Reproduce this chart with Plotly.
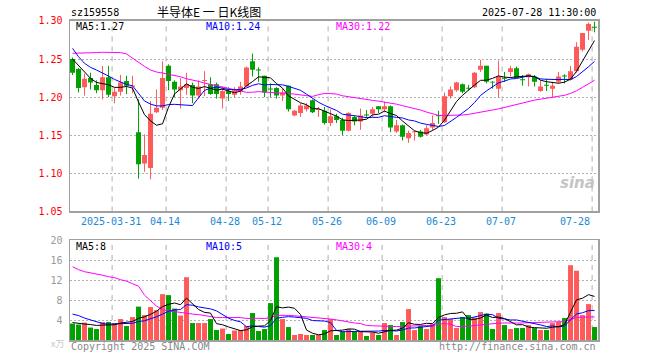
import plotly.graph_objects as go

# ---------------- data ----------------
opens = [1.250, 1.237, 1.213, 1.225, 1.216, 1.209, 1.226, 1.201, 1.207, 1.221,
         1.214, 1.154, 1.113, 1.107, 1.180, 1.186, 1.241, 1.220, 1.209, 1.212,
         1.216, 1.202, 1.221, 1.217, 1.217, 1.198, 1.208, 1.203, 1.208, 1.214,
         1.247, 1.236, 1.228, 1.211, 1.212, 1.202, 1.215, 1.176, 1.179, 1.184,
         1.196, 1.183, 1.182, 1.166, 1.175, 1.170, 1.156, 1.174, 1.168, 1.177,
         1.178, 1.188, 1.184, 1.188, 1.155, 1.163, 1.146, 1.154, 1.155, 1.151,
         1.160, 1.176, 1.167, 1.201, 1.209, 1.217, 1.212, 1.213, 1.236, 1.241,
         1.220, 1.211, 1.225, 1.233, 1.238, 1.223, 1.226, 1.227, 1.208, 1.216,
         1.211, 1.220, 1.228, 1.223, 1.234, 1.262, 1.287, 1.292]
highs = [1.252, 1.238, 1.231, 1.232, 1.222, 1.241, 1.241, 1.213, 1.229, 1.228,
         1.228, 1.197, 1.151, 1.195, 1.210, 1.247, 1.243, 1.222, 1.225, 1.232,
         1.219, 1.222, 1.234, 1.226, 1.219, 1.214, 1.213, 1.213, 1.220, 1.240,
         1.257, 1.239, 1.228, 1.218, 1.213, 1.211, 1.215, 1.183, 1.192, 1.192,
         1.197, 1.187, 1.187, 1.184, 1.178, 1.173, 1.180, 1.176, 1.185, 1.183,
         1.187, 1.188, 1.194, 1.189, 1.170, 1.164, 1.156, 1.156, 1.157, 1.163,
         1.176, 1.182, 1.206, 1.214, 1.220, 1.218, 1.216, 1.233, 1.249, 1.241,
         1.221, 1.248, 1.233, 1.241, 1.240, 1.229, 1.231, 1.229, 1.222, 1.224,
         1.220, 1.233, 1.230, 1.241, 1.272, 1.284, 1.298, 1.299]
lows = [1.229, 1.206, 1.202, 1.210, 1.205, 1.197, 1.200, 1.192, 1.202, 1.204,
        1.205, 1.093, 1.102, 1.092, 1.179, 1.183, 1.209, 1.200, 1.185, 1.203,
        1.192, 1.198, 1.201, 1.203, 1.198, 1.185, 1.195, 1.200, 1.203, 1.213,
        1.227, 1.220, 1.200, 1.200, 1.198, 1.195, 1.181, 1.175, 1.174, 1.181,
        1.179, 1.174, 1.164, 1.162, 1.166, 1.150, 1.155, 1.163, 1.157, 1.173,
        1.174, 1.179, 1.180, 1.154, 1.153, 1.143, 1.140, 1.143, 1.147, 1.150,
        1.156, 1.165, 1.166, 1.198, 1.207, 1.205, 1.209, 1.212, 1.233, 1.218,
        1.211, 1.200, 1.220, 1.227, 1.225, 1.215, 1.214, 1.214, 1.207, 1.208,
        1.199, 1.218, 1.218, 1.222, 1.232, 1.260, 1.275, 1.285]
closes = [1.232, 1.212, 1.224, 1.219, 1.209, 1.226, 1.203, 1.207, 1.219, 1.215,
          1.215, 1.112, 1.124, 1.178, 1.186, 1.225, 1.221, 1.210, 1.214, 1.217,
          1.202, 1.214, 1.222, 1.204, 1.204, 1.208, 1.204, 1.209, 1.214, 1.239,
          1.236, 1.235, 1.206, 1.210, 1.202, 1.206, 1.184, 1.182, 1.189, 1.189,
          1.180, 1.184, 1.166, 1.175, 1.170, 1.156, 1.179, 1.168, 1.176, 1.176,
          1.184, 1.184, 1.188, 1.160, 1.163, 1.148, 1.153, 1.155, 1.148, 1.159,
          1.166, 1.175, 1.201, 1.210, 1.219, 1.207, 1.211, 1.232, 1.241, 1.220,
          1.219, 1.227, 1.224, 1.238, 1.225, 1.222, 1.230, 1.220, 1.214, 1.215,
          1.215, 1.227, 1.227, 1.234, 1.266, 1.284, 1.296, 1.291]
volumes = [3.3, 3.1, 3.5, 2.5, 2.2, 3.6, 3.6, 3.4, 4.2, 2.8,
           4.6, 6.7, 5.0, 6.6, 6.0, 9.2, 9.0, 6.3, 4.9, 12.6,
           3.4, 3.4, 3.4, 4.2, 2.0, 2.3, 1.2, 1.9, 2.0, 2.8,
           5.4, 1.8, 2.2, 7.4, 16.6, 4.2, 2.6, 1.0, 1.2, 1.0,
           1.0, 1.0, 2.0, 4.2, 1.0, 1.7, 2.2, 1.8, 1.7, 0.8,
           1.5, 1.0, 3.4, 3.0, 1.0, 3.6, 6.2, 2.0, 2.8, 2.2,
           3.2, 12.4, 4.6, 4.2, 2.4, 4.6, 5.0, 4.5, 5.6, 5.3,
           2.2, 5.4, 3.0, 2.2, 2.4, 2.4, 3.0, 2.4, 2.0, 2.0,
           3.4, 3.6, 4.4, 15.0, 13.9, 5.0, 7.2, 2.6]

# moving-average values at the left edge (they depend on days before the window)
ma5_head = [1.250, 1.242, 1.233, 1.2246]
ma10_head = [1.264, 1.253, 1.2443, 1.239, 1.2355, 1.232, 1.2276, 1.2232, 1.2197]
ma30_head = [1.2575, 1.2575, 1.258, 1.2584, 1.2584, 1.2588, 1.2588, 1.2588, 1.2584,
             1.2566, 1.2509, 1.2456, 1.2403, 1.2355, 1.2329, 1.2316, 1.2302, 1.2289,
             1.2267, 1.2241, 1.2228, 1.2206, 1.2184, 1.2167, 1.2154, 1.2140, 1.2123,
             1.2105, 1.2088]
vma5_head = [3.5, 3.3, 3.2, 3.1]
vma10_head = [5.2, 4.9, 4.4, 4.0, 3.6, 3.3, 3.2, 3.2, 3.3]
vma30_head = [14.7, 14.1, 13.7, 13.5, 13.3, 13.0, 12.7, 12.5, 12.1, 11.8,
              11.3, 10.8, 9.0, 7.8, 6.8, 6.1, 5.8, 5.7, 5.5, 5.3,
              5.2, 5.1, 4.9, 4.7, 4.5, 4.5, 4.5, 4.5, 4.5]

tick_pos = [7, 16, 26, 33, 43, 52, 62, 72, 87]
tick_labels = ["2025-03-31", "04-14", "04-28", "05-12", "05-26",
               "06-09", "06-23", "07-07", "07-28"]
price_ticks = [1.05, 1.10, 1.15, 1.20, 1.25, 1.30]
vol_ticks = [4, 8, 12, 16, 20]
price_ma_labels = ["MA5:1.27", "MA10:1.24", "MA30:1.22"]
vol_ma_labels = ["MA5:8", "MA10:5", "MA30:4"]

# ---------------- helpers ----------------
W, H = 660, 360
RED = "#ff5a5a"
GREEN = "#00a000"
MONO = "DejaVu Sans Mono"


def moving_average(vals, n, head):
    out = list(head)
    for i in range(n - 1, len(vals)):
        out.append(sum(vals[i - n + 1:i + 1]) / n)
    return out


def px(x):
    return x / W


def py(y):
    return 1 - y / H


n = len(closes)
idx = list(range(n))
up = [closes[i] >= opens[i] for i in idx]

fig = go.Figure()

# candle bodies, wicks and volume bars
for flag, col in ((True, RED), (False, GREEN)):
    sel = [i for i in idx if up[i] == flag]
    base = [min(opens[i], closes[i]) for i in sel]
    hgt = [max(abs(closes[i] - opens[i]), 0.0013) for i in sel]
    wx, wy = [], []
    for i in sel:
        wx += [i, i, None]
        wy += [lows[i], highs[i], None]
    fig.add_trace(go.Scatter(x=wx, y=wy, mode="lines", line=dict(color=col, width=1),
                             hoverinfo="skip", showlegend=False, xaxis="x", yaxis="y"))
    fig.add_trace(go.Bar(x=sel, y=hgt, base=base, width=0.83, marker=dict(color=col, line=dict(width=0)),
                         showlegend=False, xaxis="x", yaxis="y"))
    fig.add_trace(go.Bar(x=sel, y=[volumes[i] for i in sel], width=0.83,
                         marker=dict(color=col, line=dict(width=0)),
                         showlegend=False, xaxis="x2", yaxis="y2"))

# moving averages
for vals, nn, head, col in ((closes, 30, ma30_head, "#ff00ff"),
                            (closes, 10, ma10_head, "#0000ff"),
                            (closes, 5, ma5_head, "#000000")):
    fig.add_trace(go.Scatter(x=idx, y=moving_average(vals, nn, head), mode="lines",
                             line=dict(color=col, width=1), showlegend=False, xaxis="x", yaxis="y"))
for vals, nn, head, col in ((volumes, 30, vma30_head, "#ff00ff"),
                            (volumes, 10, vma10_head, "#0000ff"),
                            (volumes, 5, vma5_head, "#000000")):
    fig.add_trace(go.Scatter(x=idx, y=moving_average(vals, nn, head), mode="lines",
                             line=dict(color=col, width=1), showlegend=False, xaxis="x2", yaxis="y2"))

# vertical dashed date grid lines
shapes = []
for t in tick_pos:
    for ya in ("y", "y2"):
        shapes.append(dict(type="line", xref="x" if ya == "y" else "x2", yref=ya + " domain",
                           x0=t - 0.4, x1=t - 0.4, y0=0, y1=1, layer="below",
                           line=dict(color="#b0b0b0", width=1, dash="5px,5px")))

annotations = []
# date labels
for t, lab in zip(tick_pos, tick_labels):
    last = t == tick_pos[-1]
    annotations.append(dict(x=t - 0.4 - (0.0 if last else 0.25), y=py(221.5), xref="x", yref="paper",
                            text=lab, showarrow=False, xanchor="right" if last else "center",
                            yanchor="middle", font=dict(family=MONO, size=10, color="#1a8ad4")))
# MA labels
ma_cols = ["#000000", "#0000ff", "#ff00ff"]
for lab, xx, col in zip(price_ma_labels, (74, 204, 334), ma_cols):
    annotations.append(dict(x=px(xx), y=py(26.5), xref="paper", yref="paper", text=lab, showarrow=False,
                            xanchor="left", yanchor="middle", font=dict(family=MONO, size=10, color=col)))
for lab, xx, col in zip(vol_ma_labels, (74, 204, 334), ma_cols):
    annotations.append(dict(x=px(xx), y=py(246.3), xref="paper", yref="paper", text=lab, showarrow=False,
                            xanchor="left", yanchor="middle", font=dict(family=MONO, size=10, color=col)))
# header / footer texts
annotations += [
    dict(x=px(69), y=py(13), xref="paper", yref="paper", text="sz159558", showarrow=False,
         xanchor="left", yanchor="middle", font=dict(family=MONO, size=10, color="#000000")),
    dict(x=px(209), y=py(12), xref="paper", yref="paper", text="半导体E 一 日K线图", showarrow=False,
         xanchor="center", yanchor="middle", font=dict(family="Noto Sans CJK SC", size=12, color="#000000")),
    dict(x=px(598), y=py(13), xref="paper", yref="paper", text="2025-07-28 11:30:00", showarrow=False,
         xanchor="right", yanchor="middle", font=dict(family=MONO, size=10, color="#000000")),
    dict(x=px(69), y=py(346), xref="paper", yref="paper", text="Copyright 2025 SINA.COM", showarrow=False,
         xanchor="left", yanchor="middle", font=dict(family=MONO, size=10, color="#888888")),
    dict(x=px(598), y=py(346), xref="paper", yref="paper", text="http://finance.sina.com.cn", showarrow=False,
         xanchor="right", yanchor="middle", font=dict(family=MONO, size=10, color="#888888")),
    dict(x=px(66), y=py(343), xref="paper", yref="paper", text="x万", showarrow=False,
         xanchor="right", yanchor="middle", font=dict(family="Noto Sans CJK SC", size=9, color="#c8c8c8")),
    dict(x=px(597), y=py(183), xref="paper", yref="paper", text="sina", showarrow=False,
         xanchor="right", yanchor="middle",
         font=dict(family="DejaVu Sans", size=15, color="#c4c4c4", weight="bold", style="italic")),
]

xr = [-0.42, 87.58]
xdom = [px(70), px(598)]
axis_line = dict(showline=True, mirror=True, linecolor="#a0a0a0", linewidth=1.5, automargin=False)

fig.update_layout(
    template="none",
    width=W, height=H, margin=dict(l=0, r=0, t=0, b=0, pad=0, autoexpand=False),
    paper_bgcolor="white", plot_bgcolor="white",
    barmode="overlay", showlegend=False, hovermode=False,
    xaxis=dict(domain=xdom, range=xr, showgrid=False, showticklabels=False, zeroline=False,
               ticks="", anchor="y", **axis_line),
    yaxis=dict(domain=[py(211.4), py(20.9)], range=[1.05, 1.30], tickvals=price_ticks,
               ticktext=["%.2f" % v for v in price_ticks], tickfont=dict(family=MONO, size=10, color="#ff0000"),
               showgrid=True, gridcolor="#b0b0b0", griddash="2px,2px", gridwidth=1, zeroline=False,
               ticks="", ticklabelstandoff=4, anchor="x", **axis_line),
    xaxis2=dict(domain=xdom, range=xr, showgrid=False, showticklabels=False, zeroline=False,
                ticks="", anchor="y2", **axis_line),
    yaxis2=dict(domain=[py(340), py(240.3)], range=[0, 20], tickvals=vol_ticks,
                tickfont=dict(family=MONO, size=10, color="#999999"),
                showgrid=True, gridcolor="#b0b0b0", griddash="2px,2px", gridwidth=1, zeroline=False,
                ticks="", ticklabelstandoff=4, anchor="x2", **axis_line),
    shapes=shapes, annotations=annotations,
)

fig.write_html("out.html", config={"displayModeBar": False, "staticPlot": True},
               post_script="document.body.style.margin='0';")
